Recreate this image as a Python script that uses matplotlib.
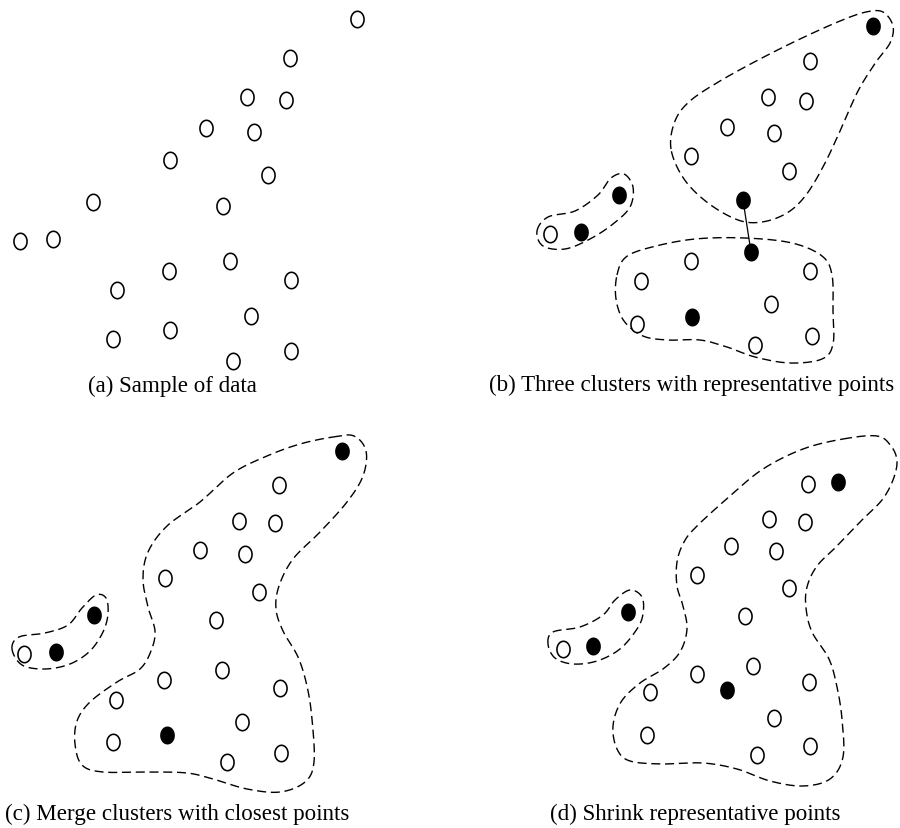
import numpy as np
import matplotlib
matplotlib.use("Agg")
import matplotlib.pyplot as plt
from matplotlib.path import Path

# point positions (pixel coords of the page, y grows downward)
a_open = [(357, 20), (290, 59), (247, 98), (286, 101), (206, 129), (254, 133),
          (170, 161), (268, 176), (93, 203), (223, 207), (20, 242), (53, 240),
          (230, 262), (169, 272), (291, 281), (117, 291), (251, 317), (170, 331),
          (113, 340), (291, 352), (233, 362)]

b_open = [(810, 62), (768, 98), (806, 102), (727, 128), (774, 134), (691, 157),
          (789, 172), (550, 235), (691, 262), (641, 282), (810, 272), (771, 305),
          (637, 325), (812, 337), (755, 346)]
b_filled = [(873, 27), (743, 201), (619, 196), (581, 233), (751, 253), (692, 318)]
b_link = [(743, 201), (751, 253)]

c_open = [(279, 486), (239, 522), (275, 524), (200, 551), (245, 555), (165, 579),
          (259, 593), (216, 621), (24, 655), (222, 671), (164, 681), (280, 689),
          (116, 701), (242, 723), (113, 743), (281, 754), (227, 763)]
c_filled = [(342, 452), (94, 616), (56, 653), (167, 736)]

d_open = [(808, 485), (769, 520), (805, 523), (731, 547), (776, 552), (697, 576),
          (789, 589), (745, 617), (563, 650), (753, 667), (697, 675), (809, 683),
          (650, 693), (774, 719), (647, 736), (810, 747), (757, 756)]
d_filled = [(838, 483), (628, 613), (593, 647), (727, 691)]

# dashed cluster outlines (control points of closed smooth curves)
b_small = [(537, 232), (548, 218), (575, 212), (598, 196), (611, 179), (624, 175),
           (633, 188), (630, 208), (613, 225), (590, 240), (565, 250), (543, 247)]
b_top = [(671, 150), (675, 122), (690, 102), (720, 82), (760, 60), (800, 40),
         (840, 22), (866, 13), (883, 13), (893, 27), (890, 44), (876, 63),
         (858, 92), (841, 130), (824, 166), (806, 196), (787, 214), (762, 223),
         (738, 221), (708, 204), (684, 180)]
b_bottom = [(617, 276), (626, 258), (652, 248), (695, 240), (745, 239), (792, 244),
            (822, 257), (832, 276), (833, 312), (833, 345), (822, 360), (790, 364),
            (755, 358), (727, 348), (700, 341), (668, 341), (643, 337), (624, 322),
            (616, 300)]
c_small = [(12, 650), (19, 638), (45, 634), (68, 626), (82, 609), (96, 596),
           (106, 599), (108, 615), (103, 633), (90, 652), (70, 665), (45, 670),
           (22, 666)]
c_big = [(333, 438), (354, 437), (366, 452), (363, 477), (347, 503), (320, 533),
         (293, 560), (279, 587), (276, 610), (283, 632), (298, 658), (307, 687),
         (312, 720), (314, 763), (305, 783), (280, 793), (247, 790), (213, 780),
         (187, 774), (150, 773), (103, 773), (82, 766), (75, 745), (77, 722),
         (90, 703), (117, 683), (140, 670), (151, 652), (155, 632), (148, 608),
         (143, 580), (148, 553), (167, 527), (200, 503), (233, 474), (267, 457),
         (300, 445)]
d_small = [(548, 645), (553, 633), (580, 628), (603, 616), (615, 601), (630, 591),
           (642, 598), (643, 615), (637, 630), (620, 650), (597, 662), (573, 665),
           (555, 659)]
d_big = [(843, 440), (877, 437), (891, 447), (897, 462), (893, 481), (882, 501),
         (862, 521), (837, 547), (817, 567), (807, 588), (806, 609), (812, 633),
         (829, 660), (837, 688), (842, 720), (843, 758), (830, 780), (803, 787),
         (770, 782), (737, 770), (703, 764), (663, 765), (630, 762), (617, 750),
         (613, 727), (621, 703), (640, 684), (663, 670), (680, 653), (687, 630),
         (683, 607), (677, 587), (677, 563), (684, 543), (697, 527), (730, 497),
         (763, 470), (803, 450)]

captions = ["(a) Sample of data", "(b) Three clusters with representative points",
            "(c) Merge clusters with closest points", "(d) Shrink representative points"]
caption_pos = [(172, 386), (692, 385), (177, 814), (695, 814)]


def closed_spline(pts, n=20):
    # periodic Catmull-Rom through the control points
    p = np.array(pts, dtype=float)
    out = []
    k = len(p)
    for i in range(k):
        p0, p1, p2, p3 = p[i - 1], p[i], p[(i + 1) % k], p[(i + 2) % k]
        t = np.linspace(0, 1, n, endpoint=False)[:, None]
        seg = 0.5 * ((2 * p1) + (-p0 + p2) * t + (2 * p0 - 5 * p1 + 4 * p2 - p3) * t ** 2
                     + (-p0 + 3 * p1 - 3 * p2 + p3) * t ** 3)
        out.append(seg)
    out = np.vstack(out)
    return np.vstack([out, out[:1]])


theta = np.linspace(0, 2 * np.pi, 60)
oval = Path(np.column_stack([0.8 * np.cos(theta), np.sin(theta)]), closed=True)

fig = plt.figure(figsize=(9, 8.29), dpi=100)
ax = fig.add_axes([0, 0, 1, 1])
ax.set_xlim(0, 900)
ax.set_ylim(829, 0)
ax.axis("off")

for outline in [b_small, b_top, b_bottom, c_small, c_big, d_small, d_big]:
    xy = closed_spline(outline)
    ax.plot(xy[:, 0], xy[:, 1], color="black", lw=1.0, dashes=(6.5, 3.4))

lx, ly = zip(*b_link)
ax.plot(lx, ly, color="black", lw=0.9)

for pts in [a_open, b_open, c_open, d_open]:
    x, y = zip(*pts)
    ax.plot(x, y, ls="none", marker=oval, ms=11.8, mfc="white", mec="black", mew=1.15)

for pts in [b_filled, c_filled, d_filled]:
    x, y = zip(*pts)
    ax.plot(x, y, ls="none", marker=oval, ms=11.8, mfc="black", mec="black", mew=1.15)

for text, (x, y) in zip(captions, caption_pos):
    ax.text(x, y, text, ha="center", va="center", fontsize=16.6, family="Liberation Serif")

fig.savefig("out.png", dpi=100)
